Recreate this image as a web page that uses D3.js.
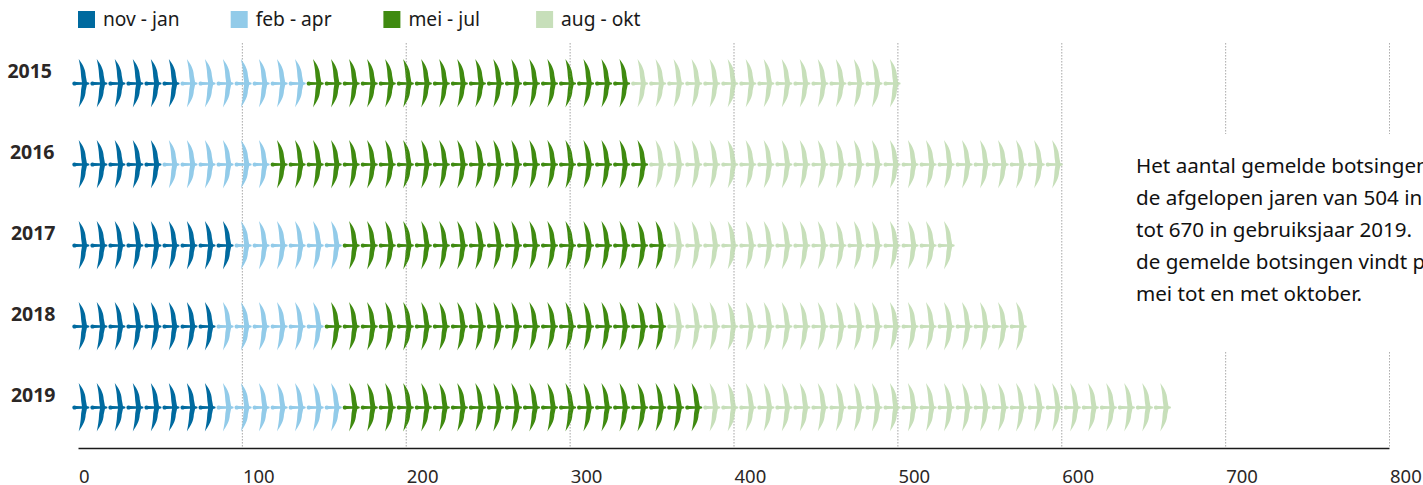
<!DOCTYPE html>
<html>
<head>
<meta charset="utf-8">
<script src="https://cdn.jsdelivr.net/npm/d3@7"></script>
<style>
  html, body { margin: 0; padding: 0; background: #fff; overflow: hidden; }
  svg { display: block; font-family: "Noto Sans", sans-serif; }
</style>
</head>
<body>
<svg id="chart" width="1423" height="485"></svg>
<script>
let years = ["2015", "2016", "2017", "2018", "2019"];
let seasons = ["nov - jan", "feb - apr", "mei - jul", "aug - okt"];
let seasonColors = ["#006a9f", "#92cbe9", "#3f8a10", "#c7dfba"];

// gemelde botsingen per seizoen
let novJan = [66, 55, 99, 88, 88];
let febApr = [77, 66, 66, 66, 77];
let meiJul = [198, 231, 198, 209, 220];
let augOkt = [163, 253, 176, 220, 285];

let axisTicks = [0, 100, 200, 300, 400, 500, 600, 700, 800];
let noteLines = [
  "Het aantal gemelde botsingen",
  "de afgelopen jaren van 504 in",
  "tot 670 in gebruiksjaar 2019.",
  "de gemelde botsingen vindt p",
  "mei tot en met oktober."
];

let perBird = 11; // 1 vogel = 11 botsingen

let svg = d3.select("#chart");

let xScale = d3.scaleLinear().domain([0, 800]).range([78, 1389]);
let yScale = d3.scalePoint().domain(years).range([83.5, 407.5]);

let drawGrid = (opacity) => {
  svg.append("g")
    .attr("opacity", opacity)
    .selectAll("line")
    .data(axisTicks.slice(1))
    .enter()
    .append("line")
    .attr("x1", d => xScale(d) + 0.5)
    .attr("x2", d => xScale(d) + 0.5)
    .attr("y1", 43)
    .attr("y2", 448)
    .attr("stroke", "#a8a8a8")
    .attr("stroke-width", 0.9)
    .attr("stroke-dasharray", "1.5 1.5");
};

// one bird, origin at the head
let birdPath = "M0,0 C0,-1.9 2,-2.7 4,-1.5 L9.6,-1.3 C9.4,-4 8.8,-6 8.7,-9 C8.5,-14 7.6,-19 6.4,-24.5 " +
  "C9.6,-20 13.2,-15 13.4,-8 L14.6,-1.4 L17,-0.7 L17,0.7 L14.6,1.4 L13.4,7 " +
  "C13.2,14 9.6,19 6.4,24 C7.6,18.5 8.5,13 8.7,8 C8.8,5 9.4,3.5 9.6,1.3 L4,1.5 C2,2.7 0,1.9 0,0 Z";

let rows = years.map((year, i) => {
  let parts = [novJan[i], febApr[i], meiJul[i], augOkt[i]];
  let birds = [];
  let sum = 0;
  parts.forEach((value, s) => {
    let from = Math.round(sum / perBird);
    sum += value;
    let to = Math.round(sum / perBird);
    for (let n = from; n < to; n++) {
      birds.push({ year: year, season: s, count: n * perBird });
    }
  });
  return birds;
});

drawGrid(1);

svg.append("g")
  .selectAll("path")
  .data(rows.flat())
  .enter()
  .append("path")
  .attr("d", birdPath)
  .attr("fill", d => seasonColors[d.season])
  .attr("transform", d => "translate(" + (xScale(d.count) - 5.7) + "," + yScale(d.year) + ")");

// grid shows faintly through the birds
drawGrid(0.25);

// white block behind the note cuts the 700 and 800 lines
svg.append("rect")
  .attr("x", 1100)
  .attr("y", 134)
  .attr("width", 323)
  .attr("height", 218)
  .attr("fill", "#fff");

// year labels
svg.append("g")
  .selectAll("text")
  .data(years)
  .enter()
  .append("text")
  .text(d => d)
  .attr("x", d => d == "2015" ? 52 : d == "2016" ? 54.5 : 55.5)
  .attr("y", d => yScale(d) - 6)
  .attr("text-anchor", "end")
  .attr("font-size", 19.5)
  .attr("font-weight", "bold")
  .attr("fill", "#2b2726");

// legend
let legend = svg.append("g")
  .selectAll("g")
  .data(seasons)
  .enter()
  .append("g")
  .attr("transform", (d, i) => "translate(" + (78 + i * 152.7) + ",11)");

legend.append("rect")
  .attr("width", 17)
  .attr("height", 17)
  .attr("fill", (d, i) => seasonColors[i]);

legend.append("text")
  .text(d => d)
  .attr("x", 25)
  .attr("y", 15)
  .attr("font-size", 19.2)
  .attr("fill", "#1a1a1a");

// axis
let xAxis = d3.axisBottom(xScale)
  .tickValues(axisTicks)
  .tickSize(0)
  .tickPadding(0)
  .tickFormat(d3.format("d"));

let axisGroup = svg.append("g")
  .attr("transform", "translate(0,448)")
  .call(xAxis);

axisGroup.select(".domain")
  .attr("stroke", "#1a1a1a")
  .attr("stroke-width", 1.5);

axisGroup.selectAll("text")
  .attr("text-anchor", "start")
  .attr("dx", 0.5)
  .attr("dy", 0)
  .attr("y", 35)
  .attr("font-family", "Noto Sans, sans-serif")
  .attr("font-size", 18.5)
  .attr("fill", "#2b2726");

// note
svg.append("g")
  .selectAll("text")
  .data(noteLines)
  .enter()
  .append("text")
  .text(d => d)
  .attr("x", 1136)
  .attr("y", (d, i) => 173 + i * 32)
  .attr("font-size", 20.6)
  .attr("fill", "#111");
</script>
</body>
</html>
